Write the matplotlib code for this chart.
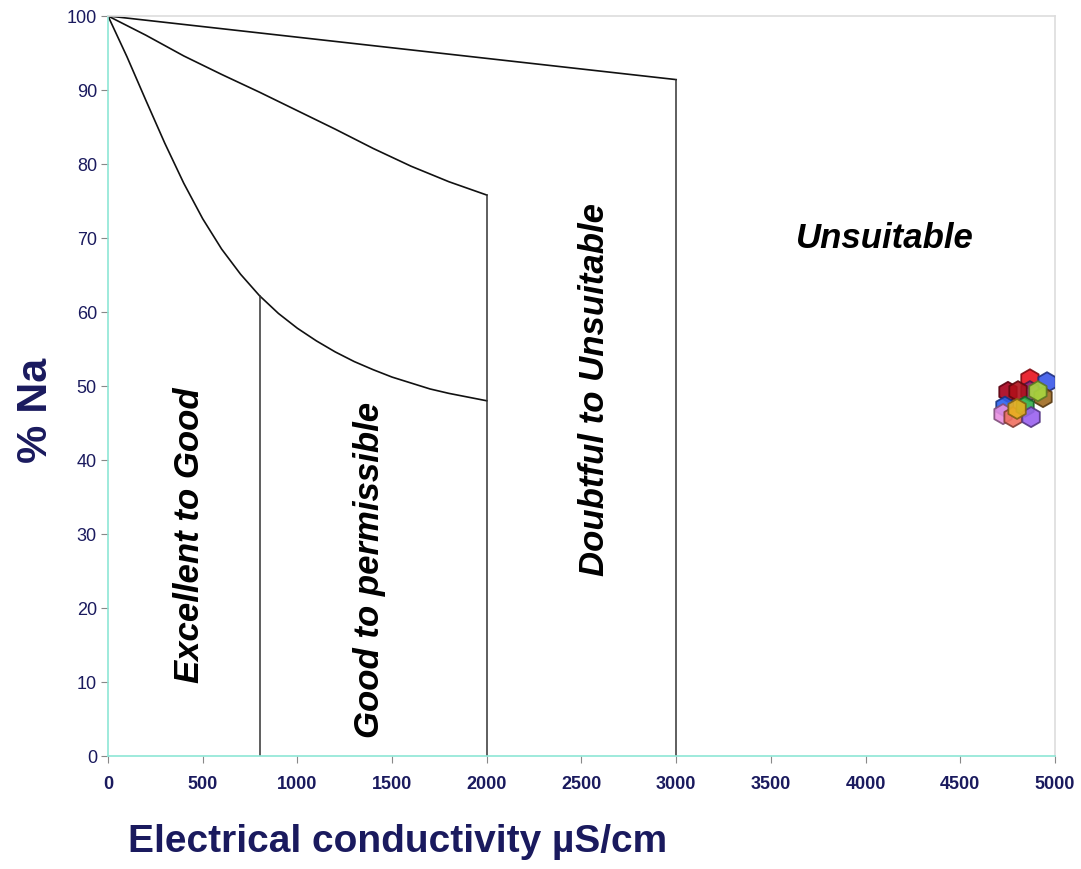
import numpy as np
import matplotlib.pyplot as plt

# Wilcox diagram: %Na against electrical conductivity

# class boundary curves (EC in uS/cm, %Na)
ec_excellent = [0, 100, 200, 300, 400, 500, 600, 700, 800, 900, 1000, 1100, 1200,
                1300, 1400, 1500, 1600, 1700, 1800, 1900, 2000]
na_excellent = [100, 94.5, 88.6, 82.8, 77.4, 72.6, 68.5, 65.1, 62.2, 59.8, 57.8, 56.1, 54.6,
                53.3, 52.2, 51.2, 50.4, 49.6, 49.0, 48.5, 48.0]

ec_good = [0, 200, 400, 600, 800, 1000, 1200, 1400, 1600, 1800, 2000]
na_good = [100, 97.4, 94.6, 92.1, 89.7, 87.2, 84.7, 82.1, 79.7, 77.6, 75.8]

ec_doubtful = [0, 3000]
na_doubtful = [100, 91.4]

# vertical class limits: (EC, top %Na)
limit_ec = [800, 2000, 3000]
limit_na = [62.2, 75.8, 91.4]

# water samples
sample_ec = [4752, 4868, 4958, 4868, 4805, 4937, 4910, 4736, 4726, 4779, 4842, 4874, 4800]
sample_na = [49.2, 50.9, 50.5, 49.3, 49.3, 48.5, 49.3, 47.2, 46.2, 45.8, 47.2, 45.8, 46.9]
sample_col = ['#a8001c', '#e8101e', '#3a58e8', '#8c2a86', '#b0101a', '#a06a20', '#a8d840',
              '#2a62f0', '#e890e0', '#f07060', '#30b048', '#9a62f0', '#e8b020']

zones = ['Excellent to Good', 'Good to permissible', 'Doubtful to Unsuitable', 'Unsuitable']

navy = '#1a1a5e'
plt.rcParams['font.family'] = ['Liberation Sans', 'DejaVu Sans']

fig = plt.figure(figsize=(10.81, 8.7), dpi=100)
ax = fig.add_axes([0.0999, 0.1299, 0.876, 0.8506])

for x, y in [(ec_excellent, na_excellent), (ec_good, na_good), (ec_doubtful, na_doubtful)]:
    ax.plot(x, y, color='#111111', lw=1.2)
for x, top in zip(limit_ec, limit_na):
    ax.plot([x, x], [0, top], color='#333333', lw=1.1)

edge = [tuple(c * 0.55 for c in plt.matplotlib.colors.to_rgb(col)) for col in sample_col]
ax.scatter(sample_ec, sample_na, s=210, marker='h', c=sample_col, edgecolors=edge,
           linewidths=1.3, alpha=0.9, zorder=3)

kw = dict(ha='center', va='center', fontsize=25, fontweight='bold', style='italic')
ax.text(433, 30, zones[0], rotation=90, **kw)
ax.text(1383, 25.3, zones[1], rotation=90, **kw)
ax.text(2571, 49.6, zones[2], rotation=90, **kw)
ax.text(4102, 70.1, zones[3], **kw)

ax.set_xlim(0, 5000)
ax.set_ylim(0, 100)
ax.set_xticks(np.arange(0, 5001, 500))
ax.set_yticks(np.arange(0, 101, 10))

for s in ['left', 'bottom']:
    ax.spines[s].set_color('#8ee6d6')
    ax.spines[s].set_linewidth(1.2)
for s in ['top', 'right']:
    ax.spines[s].set_color('#dddddd')
    ax.spines[s].set_linewidth(1.2)

ax.tick_params(axis='y', colors='#888888', labelcolor=navy, labelsize=13, length=5, pad=3)
ax.tick_params(axis='x', colors='#888888', labelcolor=navy, labelsize=13, length=5, pad=9)
for lab in ax.get_xticklabels():
    lab.set_fontweight('bold')

fig.text(0.118, 0.032, 'Electrical conductivity µS/cm', color=navy,
         fontsize=28, fontweight='bold', ha='left', va='center')
fig.text(0.033, 0.528, '% Na', color=navy, rotation=90,
         fontsize=31, fontweight='bold', ha='center', va='center')

fig.savefig('out.png', dpi=100)
